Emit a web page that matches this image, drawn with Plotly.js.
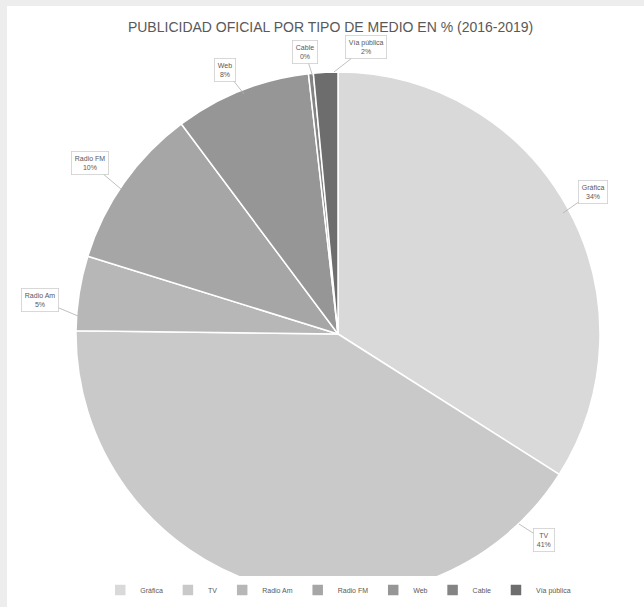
<!DOCTYPE html>
<html>
<head>
<meta charset="utf-8">
<script src="https://cdn.plot.ly/plotly-3.0.1.min.js"></script>
<style>
  html, body { margin: 0; padding: 0; background: #ededed; width: 644px; height: 607px; overflow: hidden; }
  #chart { position: absolute; left: 7px; top: 6px; width: 637px; height: 601px; }
</style>
</head>
<body>
<div id="chart"></div>
<script>
const categories = ["Gráfica", "TV", "Radio Am", "Radio FM", "Web", "Cable", "Vía pública"];
const shares = [34.0, 41.2, 4.6, 10.0, 8.4, 0.3, 1.5];
const sliceColors = ["#d9d9d9", "#c9c9c9", "#b7b7b7", "#a6a6a6", "#969696", "#848484", "#6d6d6d"];
const chartTitle = "PUBLICIDAD OFICIAL POR TIPO DE MEDIO EN % (2016-2019)";

// callout layout in page pixels: [tipX, tipY, boxX, boxY]
const callouts = [
  [563, 213, 593, 192],
  [519, 524, 544, 540],
  [78, 316, 40, 300],
  [121, 189, 90, 163],
  [244, 94, 225, 70],
  [312, 74, 305, 52],
  [334, 72, 366, 47]
];

const W = 637, H = 601, OX = 7, OY = 6;
const total = shares.reduce((a, b) => a + b, 0);
const annotations = categories.map((c, i) => {
  const [tx, ty, bx, by] = callouts[i];
  const pct = Math.round(shares[i] / total * 100);
  return {
    x: (tx - OX) / W, y: 1 - (ty - OY) / H, xref: 'paper', yref: 'paper',
    ax: bx - tx, ay: by - ty,
    text: c + '<br>' + pct + '%',
    showarrow: true, arrowhead: 0, arrowwidth: 0.8, arrowcolor: '#b0b0b0',
    bordercolor: '#cfcfcf', borderwidth: 0.8, borderpad: 3, bgcolor: '#ffffff',
    font: {family: 'Liberation Sans, Arial, sans-serif', size: 7, color: '#595959'}
  };
});

const cx = 331, cy = 328, r = 262;
const data = [{
  type: 'pie',
  labels: categories,
  values: shares,
  sort: false,
  direction: 'clockwise',
  rotation: 0,
  marker: {colors: sliceColors, line: {color: '#ffffff', width: 1.5}},
  textinfo: 'none',
  hoverinfo: 'label+percent',
  domain: {x: [(cx - r) / W, (cx + r) / W], y: [(H - cy - r) / H, (H - cy + r) / H]}
}];

const layout = {
  width: W, height: H,
  margin: {l: 0, r: 0, t: 0, b: 0},
  paper_bgcolor: '#ffffff',
  title: {text: chartTitle, x: 0.508, xanchor: 'center', y: 1 - 21 / H, yanchor: 'middle',
          font: {family: 'Liberation Sans, Arial, sans-serif', size: 14, color: '#595959'}},
  showlegend: true,
  legend: {orientation: 'h', x: 0.52, xanchor: 'center', y: (H - 584) / H, yanchor: 'middle',
           bgcolor: '#ffffff', font: {family: 'Liberation Sans, Arial, sans-serif', size: 7, color: '#595959'},
           itemwidth: 30, traceorder: 'normal'},
  annotations: annotations
};

Plotly.newPlot('chart', data, layout, {displayModeBar: false, staticPlot: true});
</script>
</body>
</html>
